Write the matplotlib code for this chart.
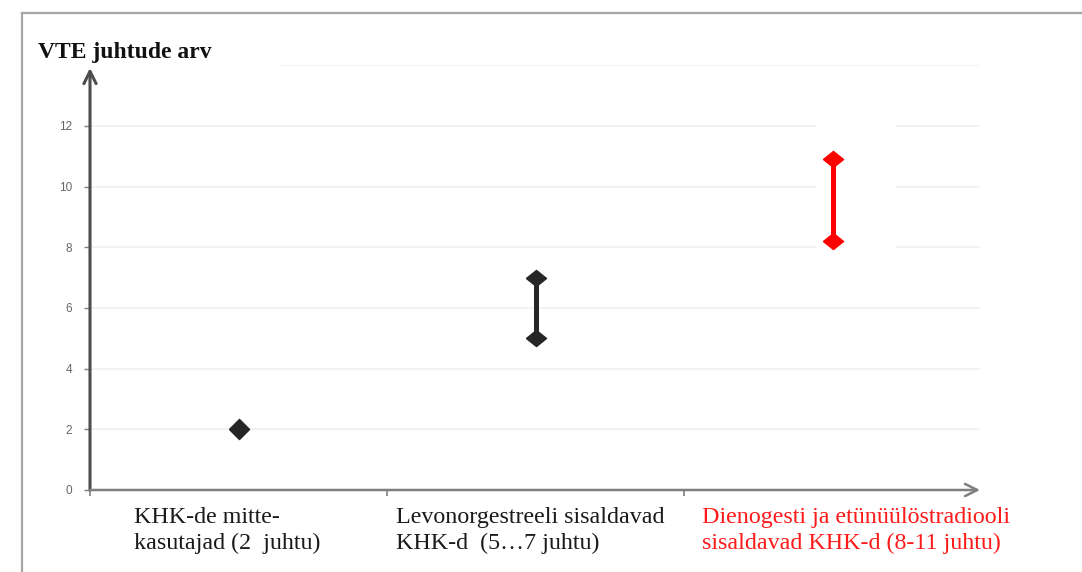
import matplotlib
matplotlib.use('Agg')
import matplotlib.pyplot as plt
from matplotlib.lines import Line2D
from matplotlib.transforms import ScaledTranslation, blended_transform_factory

# ---- data ----
categories = ["KHK-de mitte-\nkasutajad (2  juhtu)",
              "Levonorgestreeli sisaldavad\nKHK-d  (5…7 juhtu)",
              "Dienogesti ja etünüülöstradiooli\nsisaldavad KHK-d (8-11 juhtu)"]
low_values = [2, 5, 8.2]
high_values = [2, 7, 10.9]
ytick_values = [0, 2, 4, 6, 8, 10, 12]
y_title = "VTE juhtude arv"

# ---- style ----
series_colors = ['#262626', '#262626', '#ff0000']
label_colors = ['#1a1a1a', '#1a1a1a', '#ff1a1a']
label_dx_px = [-105, -139, -131]
serif = ['Liberation Serif', 'DejaVu Serif']

W, H = 1082, 572
fig = plt.figure(figsize=(W / 100, H / 100), dpi=100)
ax = fig.add_axes([90 / W, (H - 490) / H, 891 / W, 424.7 / H])
ax.set_xlim(-0.5, 2.5)
ax.set_ylim(0, 14)
for s in ax.spines.values():
    s.set_visible(False)

# gridlines
grid_kw = dict(color='#f1f1f1', lw=1.3, zorder=0)
for y in [2, 4, 6]:
    ax.hlines(y, -0.5, 2.497, **grid_kw)
for y in [8, 10, 12]:
    ax.hlines(y, -0.5, 1.944, **grid_kw)
    ax.hlines(y, 2.214, 2.497, **grid_kw)
ax.hlines(14, 0.14, 2.497, **grid_kw)

# arrows as axes
ax.annotate('', xy=(0, 0.9937), xytext=(0, 0), xycoords='axes fraction',
            arrowprops=dict(arrowstyle='->', color='#4d4d4d', lw=2.2,
                            mutation_scale=22, shrinkA=0, shrinkB=0), zorder=3)
ax.annotate('', xy=(0.9989, 0), xytext=(0, 0), xycoords='axes fraction',
            arrowprops=dict(arrowstyle='->', color='#7f7f7f', lw=1.8,
                            mutation_scale=22, shrinkA=0, shrinkB=0), zorder=3)

# ticks
ax.set_yticks(ytick_values)
ax.set_yticklabels([str(v) for v in ytick_values], family=['Liberation Sans', 'DejaVu Sans'])
ax.tick_params(axis='y', length=4, width=1, color='#808080', labelsize=8.5,
               labelcolor='#666666', pad=9)
ax.set_xticks([-0.5, 0.5, 1.5])
ax.set_xticklabels([])
ax.tick_params(axis='x', length=4, width=1.2, color='#808080')

# category labels
base = blended_transform_factory(ax.transData, ax.transAxes)
for i, (txt, c, dx) in enumerate(zip(categories, label_colors, label_dx_px)):
    tr = base + ScaledTranslation(dx / 100, -17 / 100, fig.dpi_scale_trans)
    ax.text(i, 0, txt, transform=tr, family=serif, fontsize=17.3, color=c,
            ha='left', va='top', linespacing=1.32, clip_on=False)

# marks
diamond = [(-1, 0), (0, 1), (1, 0), (0, -1), (-1, 0)]
cap = [(-1, 0), (0, 0.8), (1, 0), (0, -0.8), (-1, 0)]
for i, (lo, hi, c) in enumerate(zip(low_values, high_values, series_colors)):
    if lo == hi:
        ax.plot([i], [lo], linestyle='none', marker=diamond, markersize=14.5,
                color=c, zorder=5)
    else:
        ax.plot([i, i], [lo, hi], color=c, lw=3.6, marker=cap, markersize=14.5,
                solid_capstyle='butt', zorder=5)

# title
fig.text(38 / W, 1 - 58 / H, y_title, family=serif, fontweight='bold',
         fontsize=17, color='#111111', va='baseline', ha='left')

# outer frame
frame_kw = dict(color='#a6a6a6', lw=1.6, transform=fig.transFigure)
fig.add_artist(Line2D([22 / W, 22 / W], [0, 1 - 13 / H], **frame_kw))
fig.add_artist(Line2D([22 / W, 1], [1 - 13 / H, 1 - 13 / H], **frame_kw))

fig.savefig('out.png', dpi=100)
